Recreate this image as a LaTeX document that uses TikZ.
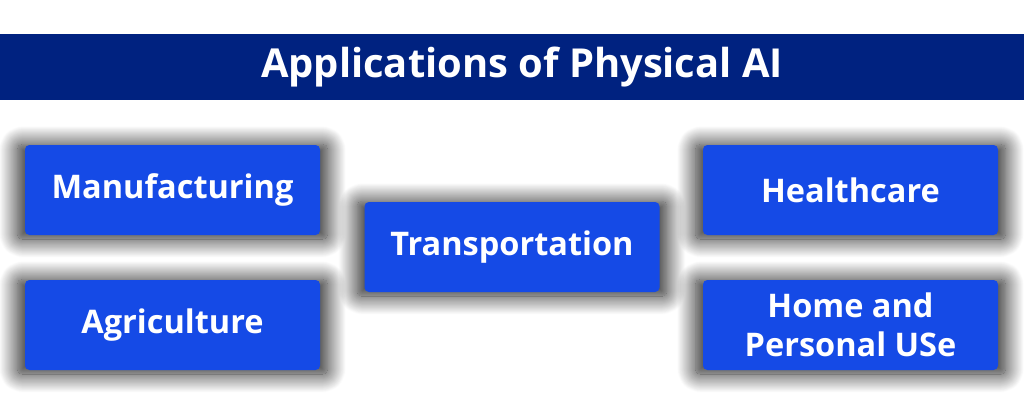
\documentclass[tikz,border=0pt]{standalone}
\usepackage{fontspec}
\setmainfont{Open Sans}
\usepackage{xcolor}
\usetikzlibrary{shadows.blur}
\definecolor{titlenavy}{RGB}{0,34,128}
\definecolor{appblue}{RGB}{21,74,230}
\tikzset{
  appbox/.style={fill=appblue,rounded corners=2.5pt,minimum width=5.9cm,minimum height=1.8cm,
    text=white,font=\bfseries\fontsize{18.5}{22}\selectfont,align=center,
    blur shadow={shadow xshift=0pt,shadow yshift=-1pt,shadow blur radius=10pt,shadow blur steps=25,
      shadow opacity=90,shadow scale=1.05}}
}
\begin{document}
\begin{tikzpicture}
      \useasboundingbox (0,0) rectangle (20.48,8.1);
      \fill[titlenavy] (0,6.1) rectangle (20.48,7.42);
      \node[text=white,font=\bfseries\fontsize{22.7}{28}\selectfont] (title) at (10.44,6.76) {Applications of Physical AI};
      \node[appbox] (manuf) at (3.45,4.30) {Manufacturing};
      \node[appbox] (agri) at (3.45,1.60) {Agriculture};
      \node[appbox] (trans) at (10.24,3.16) {Transportation};
      \node[appbox] (health) at (17.01,4.30) {Healthcare};
      \node[appbox] (home) at (17.01,1.60) {Home and\\Personal USe};
    \end{tikzpicture}
\end{document}
